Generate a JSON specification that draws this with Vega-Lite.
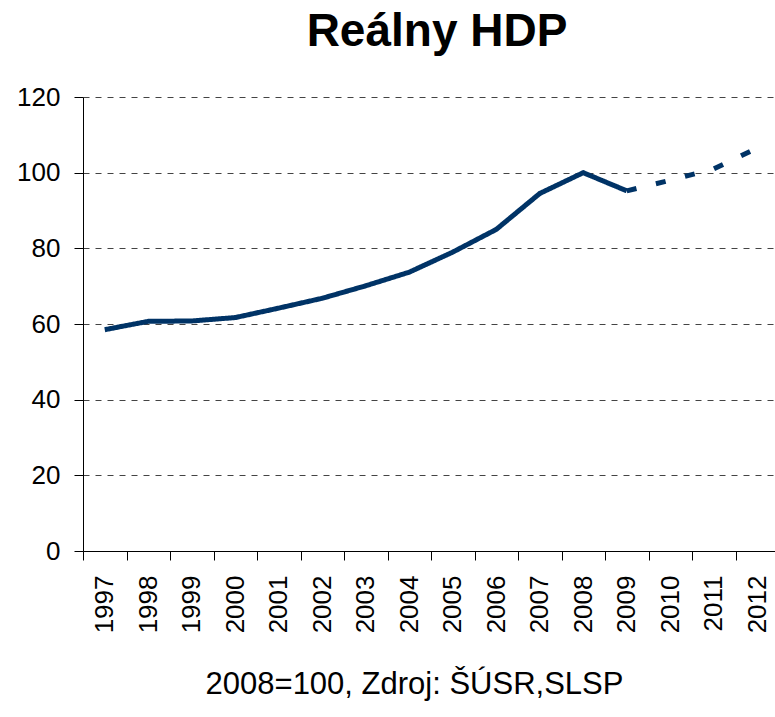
{
  "$schema": "https://vega.github.io/schema/vega-lite/v6.json",
  "autosize": {"type": "none"},
  "padding": {"left": 83, "top": 97, "right": 0, "bottom": 166},
  "width": 696,
  "height": 454,
  "background": "white",
  "config": {
    "view": {"stroke": null},
    "font": "Liberation Sans"
  },
  "title": {
    "text": "Reálny HDP",
    "font": "Liberation Sans",
    "fontSize": 46,
    "fontWeight": "bold",
    "color": "black",
    "anchor": "middle",
    "dx": 6,
    "offset": 28
  },
  "data": {
    "values": [
      {"year": "1997", "value": 58.5, "seg": "skutočnosť"},
      {"year": "1998", "value": 60.7, "seg": "skutočnosť"},
      {"year": "1999", "value": 60.8, "seg": "skutočnosť"},
      {"year": "2000", "value": 61.7, "seg": "skutočnosť"},
      {"year": "2001", "value": 64.2, "seg": "skutočnosť"},
      {"year": "2002", "value": 66.8, "seg": "skutočnosť"},
      {"year": "2003", "value": 70.1, "seg": "skutočnosť"},
      {"year": "2004", "value": 73.7, "seg": "skutočnosť"},
      {"year": "2005", "value": 79.0, "seg": "skutočnosť"},
      {"year": "2006", "value": 85.0, "seg": "skutočnosť"},
      {"year": "2007", "value": 94.5, "seg": "skutočnosť"},
      {"year": "2008", "value": 100.0, "seg": "skutočnosť"},
      {"year": "2009", "value": 95.2, "seg": "skutočnosť"},
      {"year": "2009", "value": 95.2, "seg": "prognóza"},
      {"year": "2010", "value": 98.0, "seg": "prognóza"},
      {"year": "2011", "value": 101.0, "seg": "prognóza"},
      {"year": "2012", "value": 106.5, "seg": "prognóza"}
    ]
  },
  "mark": {"type": "line", "color": "#003366", "strokeWidth": 5, "strokeCap": "butt", "strokeJoin": "miter"},
  "encoding": {
    "x": {
      "field": "year",
      "type": "ordinal",
      "scale": {"paddingInner": 0, "paddingOuter": 0},
      "axis": {
        "title": "2008=100, Zdroj: ŠÚSR,SLSP",
        "titleFont": "Liberation Sans",
        "titleFontSize": 31,
        "titleFontWeight": "normal",
        "titleColor": "black",
        "titleX": 331,
        "titlePadding": 37,
        "labelAngle": -90,
        "labelFont": "Liberation Sans",
        "labelFontSize": 26,
        "labelColor": "black",
        "labelPadding": 15,
        "tickBand": "extent",
        "tickSize": 9,
        "tickColor": "black",
        "domainColor": "black",
        "grid": false
      }
    },
    "y": {
      "field": "value",
      "type": "quantitative",
      "scale": {"domain": [0, 120], "nice": false},
      "axis": {
        "title": null,
        "values": [0, 20, 40, 60, 80, 100, 120],
        "labelFont": "Liberation Sans",
        "labelFontSize": 26,
        "labelColor": "black",
        "labelPadding": 14,
        "tickSize": 9,
        "tickColor": "black",
        "domainColor": "black",
        "grid": true,
        "gridColor": "#444444",
        "gridDash": [6, 6],
        "gridWidth": 1
      }
    },
    "strokeDash": {
      "field": "seg",
      "type": "nominal",
      "scale": {"domain": ["skutočnosť", "prognóza"], "range": [[1, 0], [10, 20]]},
      "legend": null
    }
  }
}
